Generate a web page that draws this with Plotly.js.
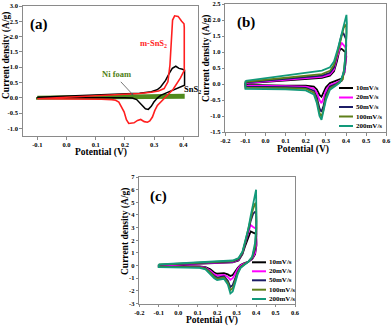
<!DOCTYPE html>
<html><head><meta charset="utf-8">
<script src="https://cdn.plot.ly/plotly-3.0.1.min.js"></script>
<style>html,body{margin:0;padding:0;background:#fff}#g{width:392px;height:326px}</style>
</head><body><div id="g"></div>
<script>
// ---------- Panel (a) data ----------
const aRedV = [-0.1,0.0,0.1,0.2,0.25,0.29,0.315,0.334,0.347,0.354,0.359,0.363,0.370,0.382,0.394,0.402,0.403,0.403,0.39,0.379,0.365,0.351,0.334,0.322,0.311,0.302,0.294,0.285,0.277,0.266,0.254,0.243,0.231,0.213,0.205,0.197,0.188,0.179,0.168,0.155,0.12,0.05,-0.05,-0.1,-0.1];
const aRedJ = [-0.03,0.02,0.06,0.11,0.14,0.18,0.22,0.30,0.52,1.07,1.94,2.54,2.68,2.66,2.5,2.42,2.3,0.9,0.65,0.47,0.28,0.14,-0.03,-0.12,-0.25,-0.42,-0.63,-0.76,-0.8,-0.78,-0.71,-0.74,-0.82,-0.84,-0.72,-0.46,-0.28,-0.14,-0.08,-0.06,-0.05,-0.04,-0.04,-0.03,-0.03];
const aBlkV = [-0.1,0.0,0.1,0.2,0.25,0.29,0.31,0.322,0.339,0.351,0.362,0.374,0.385,0.397,0.404,0.404,0.385,0.362,0.334,0.322,0.31,0.299,0.29,0.28,0.27,0.26,0.25,0.24,0.225,0.2,0.1,0.0,-0.1,-0.1];
const aBlkJ = [0.02,0.06,0.09,0.13,0.15,0.2,0.26,0.35,0.57,0.79,0.96,1.03,0.96,0.93,0.9,0.41,0.33,0.25,0.14,0.08,-0.02,-0.14,-0.28,-0.38,-0.36,-0.25,-0.14,-0.06,-0.01,0.0,0.0,0.0,0.0,0.02];
const aNiV = [-0.1,0.1,0.3,0.4,0.4,0.3,0.1,-0.1,-0.1];
const aNiJ = [0.02,0.04,0.07,0.09,0.01,0.0,-0.01,-0.02,0.02];
const aXTicks = [-0.1,0.0,0.1,0.2,0.3,0.4];
const aXLabels = ['-0.1','0.0','0.1','0.2','0.3','0.4'];
const aYTicks = [-1.0,-0.5,0.0,0.5,1.0,1.5,2.0,2.5,3.0];
const aYLabels = ['-1.0','-0.5','0.0','0.5','1.0','1.5','2.0','2.5','3.0'];

// ---------- Panel (b) data ----------
const scanLabels = ['10mV/s','20mV/s','50mV/s','100mV/s','200mV/s'];
const scanColors = ['#000000','#ff00ff','#1c1c66','#5f7f1a','#12997a'];
const bV10 = [-0.1,0.0,0.1,0.2,0.28,0.32,0.34,0.355,0.365,0.373,0.382,0.391,0.399,0.401,0.392,0.378,0.35,0.32,0.3,0.287,0.278,0.268,0.255,0.24,0.2,0.1,0.0,-0.1,-0.1];
const bJ10 = [0.02,0.06,0.1,0.15,0.19,0.26,0.4,0.72,1.0,1.11,1.08,1.02,1.0,0.85,0.35,0.17,0.1,0.03,-0.1,-0.3,-0.4,-0.34,-0.17,-0.08,-0.05,-0.05,-0.04,-0.03,0.02];
const bV20 = [-0.1,0.0,0.1,0.2,0.28,0.32,0.34,0.355,0.368,0.377,0.386,0.394,0.4,0.401,0.393,0.378,0.35,0.32,0.3,0.288,0.278,0.268,0.255,0.24,0.2,0.1,0.0,-0.1,-0.1];
const bJ20 = [0.03,0.08,0.13,0.18,0.22,0.3,0.45,0.82,1.15,1.29,1.23,1.16,1.12,0.95,0.4,0.13,0.04,-0.03,-0.2,-0.45,-0.6,-0.5,-0.28,-0.14,-0.08,-0.07,-0.06,-0.05,0.03];
const bV50 = [-0.1,0.0,0.1,0.2,0.28,0.32,0.34,0.355,0.368,0.377,0.386,0.394,0.4,0.401,0.393,0.378,0.35,0.32,0.3,0.288,0.278,0.268,0.255,0.24,0.2,0.1,0.0,-0.1,-0.1];
const bJ50 = [0.05,0.1,0.15,0.21,0.26,0.35,0.52,0.92,1.3,1.52,1.6,1.5,1.4,1.2,0.5,0.1,0.0,-0.08,-0.33,-0.68,-0.87,-0.76,-0.42,-0.21,-0.12,-0.1,-0.09,-0.08,0.05];
const bV100 = [-0.1,0.0,0.1,0.2,0.28,0.32,0.34,0.36,0.375,0.388,0.396,0.401,0.402,0.396,0.384,0.35,0.32,0.3,0.288,0.278,0.268,0.255,0.24,0.2,0.1,0.0,-0.1,-0.1];
const bJ100 = [0.07,0.13,0.19,0.26,0.31,0.41,0.6,1.02,1.42,1.75,1.84,1.8,1.6,0.8,0.15,-0.03,-0.13,-0.42,-0.8,-1.02,-0.9,-0.52,-0.27,-0.15,-0.13,-0.12,-0.12,0.07];
const bV200 = [-0.1,0.0,0.1,0.2,0.28,0.32,0.34,0.36,0.378,0.39,0.397,0.402,0.404,0.4,0.39,0.37,0.35,0.32,0.3,0.288,0.278,0.268,0.255,0.24,0.2,0.1,0.0,-0.1,-0.1];
const bJ200 = [0.1,0.18,0.26,0.35,0.42,0.52,0.7,1.12,1.55,1.85,2.02,2.16,1.9,1.2,0.4,0.05,-0.05,-0.18,-0.5,-0.9,-1.12,-1.0,-0.6,-0.33,-0.2,-0.17,-0.16,-0.15,0.1];
const bcXTicks = [-0.2,-0.1,0.0,0.1,0.2,0.3,0.4,0.5,0.6];
const bcXLabels = ['-0.2','-0.1','0.0','0.1','0.2','0.3','0.4','0.5','0.6'];
const bYTicks = [-1.5,-1.0,-0.5,0.0,0.5,1.0,1.5,2.0,2.5];
const bYLabels = ['-1.5','-1.0','-0.5','0.0','0.5','1.0','1.5','2.0','2.5'];

// ---------- Panel (c) data ----------
const cV10 = [-0.1,0.0,0.1,0.2,0.28,0.31,0.33,0.345,0.36,0.372,0.385,0.4,0.402,0.395,0.38,0.36,0.34,0.32,0.305,0.29,0.28,0.268,0.255,0.235,0.215,0.2,0.185,0.165,0.14,0.11,0.05,-0.05,-0.1,-0.1];
const cJ10 = [0.02,0.08,0.12,0.17,0.25,0.4,0.9,1.6,2.3,2.7,2.6,2.5,1.6,0.9,0.5,0.3,0.2,0.05,-0.2,-0.55,-0.75,-0.82,-0.7,-0.6,-0.62,-0.65,-0.55,-0.3,-0.12,-0.06,-0.05,-0.04,-0.03,0.02];
const cV20 = [-0.1,0.0,0.1,0.2,0.28,0.31,0.33,0.345,0.36,0.372,0.385,0.4,0.402,0.395,0.38,0.36,0.34,0.32,0.305,0.29,0.28,0.268,0.255,0.235,0.215,0.2,0.185,0.165,0.14,0.11,0.05,-0.05,-0.1,-0.1];
const cJ20 = [0.03,0.1,0.15,0.2,0.28,0.45,1.0,1.8,2.7,3.2,3.05,2.9,1.8,1.0,0.55,0.3,0.15,0.0,-0.3,-0.75,-1.0,-1.12,-0.9,-0.75,-0.78,-0.8,-0.68,-0.4,-0.16,-0.08,-0.07,-0.06,-0.05,0.03];
const cV50 = [-0.1,0.0,0.1,0.2,0.28,0.31,0.33,0.345,0.36,0.372,0.385,0.395,0.4,0.402,0.395,0.38,0.36,0.34,0.32,0.305,0.29,0.28,0.268,0.255,0.235,0.215,0.2,0.185,0.165,0.14,0.11,0.05,-0.05,-0.1,-0.1];
const cJ50 = [0.05,0.12,0.18,0.24,0.32,0.5,1.0,1.8,2.8,3.5,4.1,4.25,4.2,2.5,1.3,0.6,0.3,0.12,-0.1,-0.5,-1.2,-1.55,-1.7,-1.2,-0.85,-0.9,-0.95,-0.8,-0.5,-0.2,-0.12,-0.1,-0.09,-0.08,0.05];
const cV100 = [-0.1,0.0,0.1,0.2,0.28,0.31,0.33,0.345,0.36,0.372,0.385,0.395,0.4,0.402,0.395,0.38,0.36,0.34,0.32,0.305,0.29,0.28,0.268,0.255,0.235,0.215,0.2,0.185,0.165,0.14,0.11,0.05,-0.05,-0.1,-0.1];
const cJ100 = [0.07,0.15,0.21,0.28,0.36,0.55,1.05,1.9,2.9,3.7,4.5,4.9,4.95,3.0,1.5,0.65,0.3,0.1,-0.15,-0.6,-1.4,-1.8,-1.95,-1.35,-0.95,-1.0,-1.05,-0.9,-0.55,-0.25,-0.15,-0.12,-0.11,-0.1,0.07];
const cV200 = [-0.1,0.0,0.1,0.2,0.28,0.31,0.33,0.345,0.36,0.372,0.385,0.395,0.4,0.402,0.395,0.38,0.36,0.34,0.32,0.305,0.29,0.28,0.268,0.255,0.235,0.215,0.2,0.185,0.165,0.14,0.11,0.05,-0.05,-0.1,-0.1];
const cJ200 = [0.1,0.18,0.25,0.32,0.4,0.6,1.1,2.0,2.9,3.9,4.9,5.6,6.0,3.5,1.8,0.7,0.3,0.05,-0.2,-0.7,-1.6,-2.05,-2.2,-1.5,-1.05,-1.1,-1.15,-1.0,-0.65,-0.3,-0.18,-0.15,-0.13,-0.12,0.1];
const cYTicks = [-3,-2,-1,0,1,2,3,4,5,6,7];
const cYLabels = ['-3','-2','-1','0','1','2','3','4','5','6','7'];

// ---------- Build ----------
const W = 392, H = 326;
const SERIF = 'Liberation Serif, Times New Roman, serif';
const px = v => v / W, py = v => 1 - v / H;

const traces = [];
traces.push({x: aNiV, y: aNiJ, xaxis:'x', yaxis:'y', mode:'lines', line:{color:'#4f8a1c', width:2.6}, showlegend:false});
traces.push({x: aBlkV, y: aBlkJ, xaxis:'x', yaxis:'y', mode:'lines', line:{color:'#000', width:1.5}, showlegend:false});
traces.push({x: aRedV, y: aRedJ, xaxis:'x', yaxis:'y', mode:'lines', line:{color:'#ff1f1f', width:1.6}, showlegend:false});

const bV = [bV10,bV20,bV50,bV100,bV200], bJ = [bJ10,bJ20,bJ50,bJ100,bJ200];
const cV = [cV10,cV20,cV50,cV100,cV200], cJ = [cJ10,cJ20,cJ50,cJ100,cJ200];
for (let i = 0; i < 5; i++) {
  traces.push({x: bV[i], y: bJ[i], xaxis:'x2', yaxis:'y2', mode:'lines', name: scanLabels[i], line:{color: scanColors[i], width:1.8}, showlegend:false});
}
for (let i = 0; i < 5; i++) {
  traces.push({x: cV[i], y: cJ[i], xaxis:'x3', yaxis:'y3', mode:'lines', name: scanLabels[i], line:{color: scanColors[i], width:1.8}, showlegend:false});
}

const tickFont = {family: SERIF, size: 6.5, weight: 'bold', color: '#000'};
function ax(extra) {
  return Object.assign({showline:true, mirror:true, linecolor:'#8a8a8a', linewidth:1, ticks:'outside', ticklen:2.5,
    tickcolor:'#8a8a8a', tickwidth:1, tickfont: tickFont, showgrid:false, zeroline:false, tickmode:'array', fixedrange:true}, extra);
}

const layout = {
  width: W, height: H, margin:{l:0,r:0,t:0,b:0}, paper_bgcolor:'#fff', plot_bgcolor:'#fff', showlegend:false,
  xaxis: ax({domain:[px(22.7), px(198)], range:[-0.15, 0.45], anchor:'y', tickvals:aXTicks, ticktext:aXLabels}),
  yaxis: ax({domain:[py(136), py(6)], range:[-1.25, 3.0], anchor:'x', tickvals:aYTicks, ticktext:aYLabels}),
  xaxis2: ax({domain:[px(225.3), px(386.3)], range:[-0.2, 0.6], anchor:'y2', tickvals:bcXTicks, ticktext:bcXLabels}),
  yaxis2: ax({domain:[py(132), py(4)], range:[-1.5, 2.5], anchor:'x2', tickvals:bYTicks, ticktext:bYLabels}),
  xaxis3: ax({domain:[px(139.3), px(295)], range:[-0.2, 0.6], anchor:'y3', tickvals:bcXTicks, ticktext:bcXLabels}),
  yaxis3: ax({domain:[py(303.5), py(177)], range:[-3, 7], anchor:'x3', tickvals:cYTicks, ticktext:cYLabels}),
  annotations: [], shapes: []
};

const titleFont = {family: SERIF, size: 9.5, weight:'bold', color:'#000'};
const A = layout.annotations;
function txt(x, y, text, font, opts) {
  A.push(Object.assign({xref:'paper', yref:'paper', x:px(x), y:py(y), text:text, showarrow:false, font:font,
    xanchor:'center', yanchor:'middle'}, opts || {}));
}
// axis titles
txt(6, 56, 'Current density (A/g)', titleFont, {textangle:-90});
txt(101, 152.5, 'Potential (V)', titleFont);
txt(206.5, 58.5, 'Current density (A/g)', titleFont, {textangle:-90});
txt(302.5, 149, 'Potential (V)', titleFont);
txt(125, 232, 'Current density (A/g)', titleFont, {textangle:-90});
txt(211.5, 320.5, 'Potential (V)', titleFont);
// panel labels
const panelFont = {family: SERIF, size: 15, weight:'bold', color:'#000'};
txt(39, 24, '(a)', panelFont);
txt(245.5, 22.5, '(b)', panelFont);
txt(158.5, 197, '(c)', panelFont);
// panel (a) curve labels
txt(138, 43, 'm-SnS<sub>2</sub>', {family:SERIF, size:8.5, weight:'bold', color:'#ff1f1f'}, {xanchor:'left'});
txt(100, 74, 'Ni foam', {family:SERIF, size:8.5, weight:'bold', color:'#4f7f14'}, {xanchor:'left'});
txt(182, 90, 'SnS<sub>2</sub>', {family:SERIF, size:8.5, weight:'bold', color:'#000'}, {xanchor:'left'});
A.push({xref:'x', yref:'y', x:0.229, y:0.08, ax:-14, ay:-15, text:'', showarrow:true, arrowhead:2, arrowsize:0.6, arrowwidth:0.8, arrowcolor:'#555'});

// legends (b) and (c)
const legFont = {family: SERIF, size: 7, weight:'bold', color:'#000'};
const legB = {x0:339, x1:353, tx:354, y:[88, 97.5, 107, 116.5, 126]};
const legC = {x0:252, x1:266, tx:267, y:[262.3, 271.3, 280.3, 289.7, 299]};
[legB, legC].forEach(L => {
  for (let i = 0; i < 5; i++) {
    layout.shapes.push({type:'line', xref:'paper', yref:'paper', x0:px(L.x0), x1:px(L.x1), y0:py(L.y[i]), y1:py(L.y[i]),
      line:{color: scanColors[i], width:2}});
    txt(L.tx, L.y[i], scanLabels[i], legFont, {xanchor:'left'});
  }
});

Plotly.newPlot('g', traces, layout, {staticPlot:true, displayModeBar:false});
</script>
</body></html>
